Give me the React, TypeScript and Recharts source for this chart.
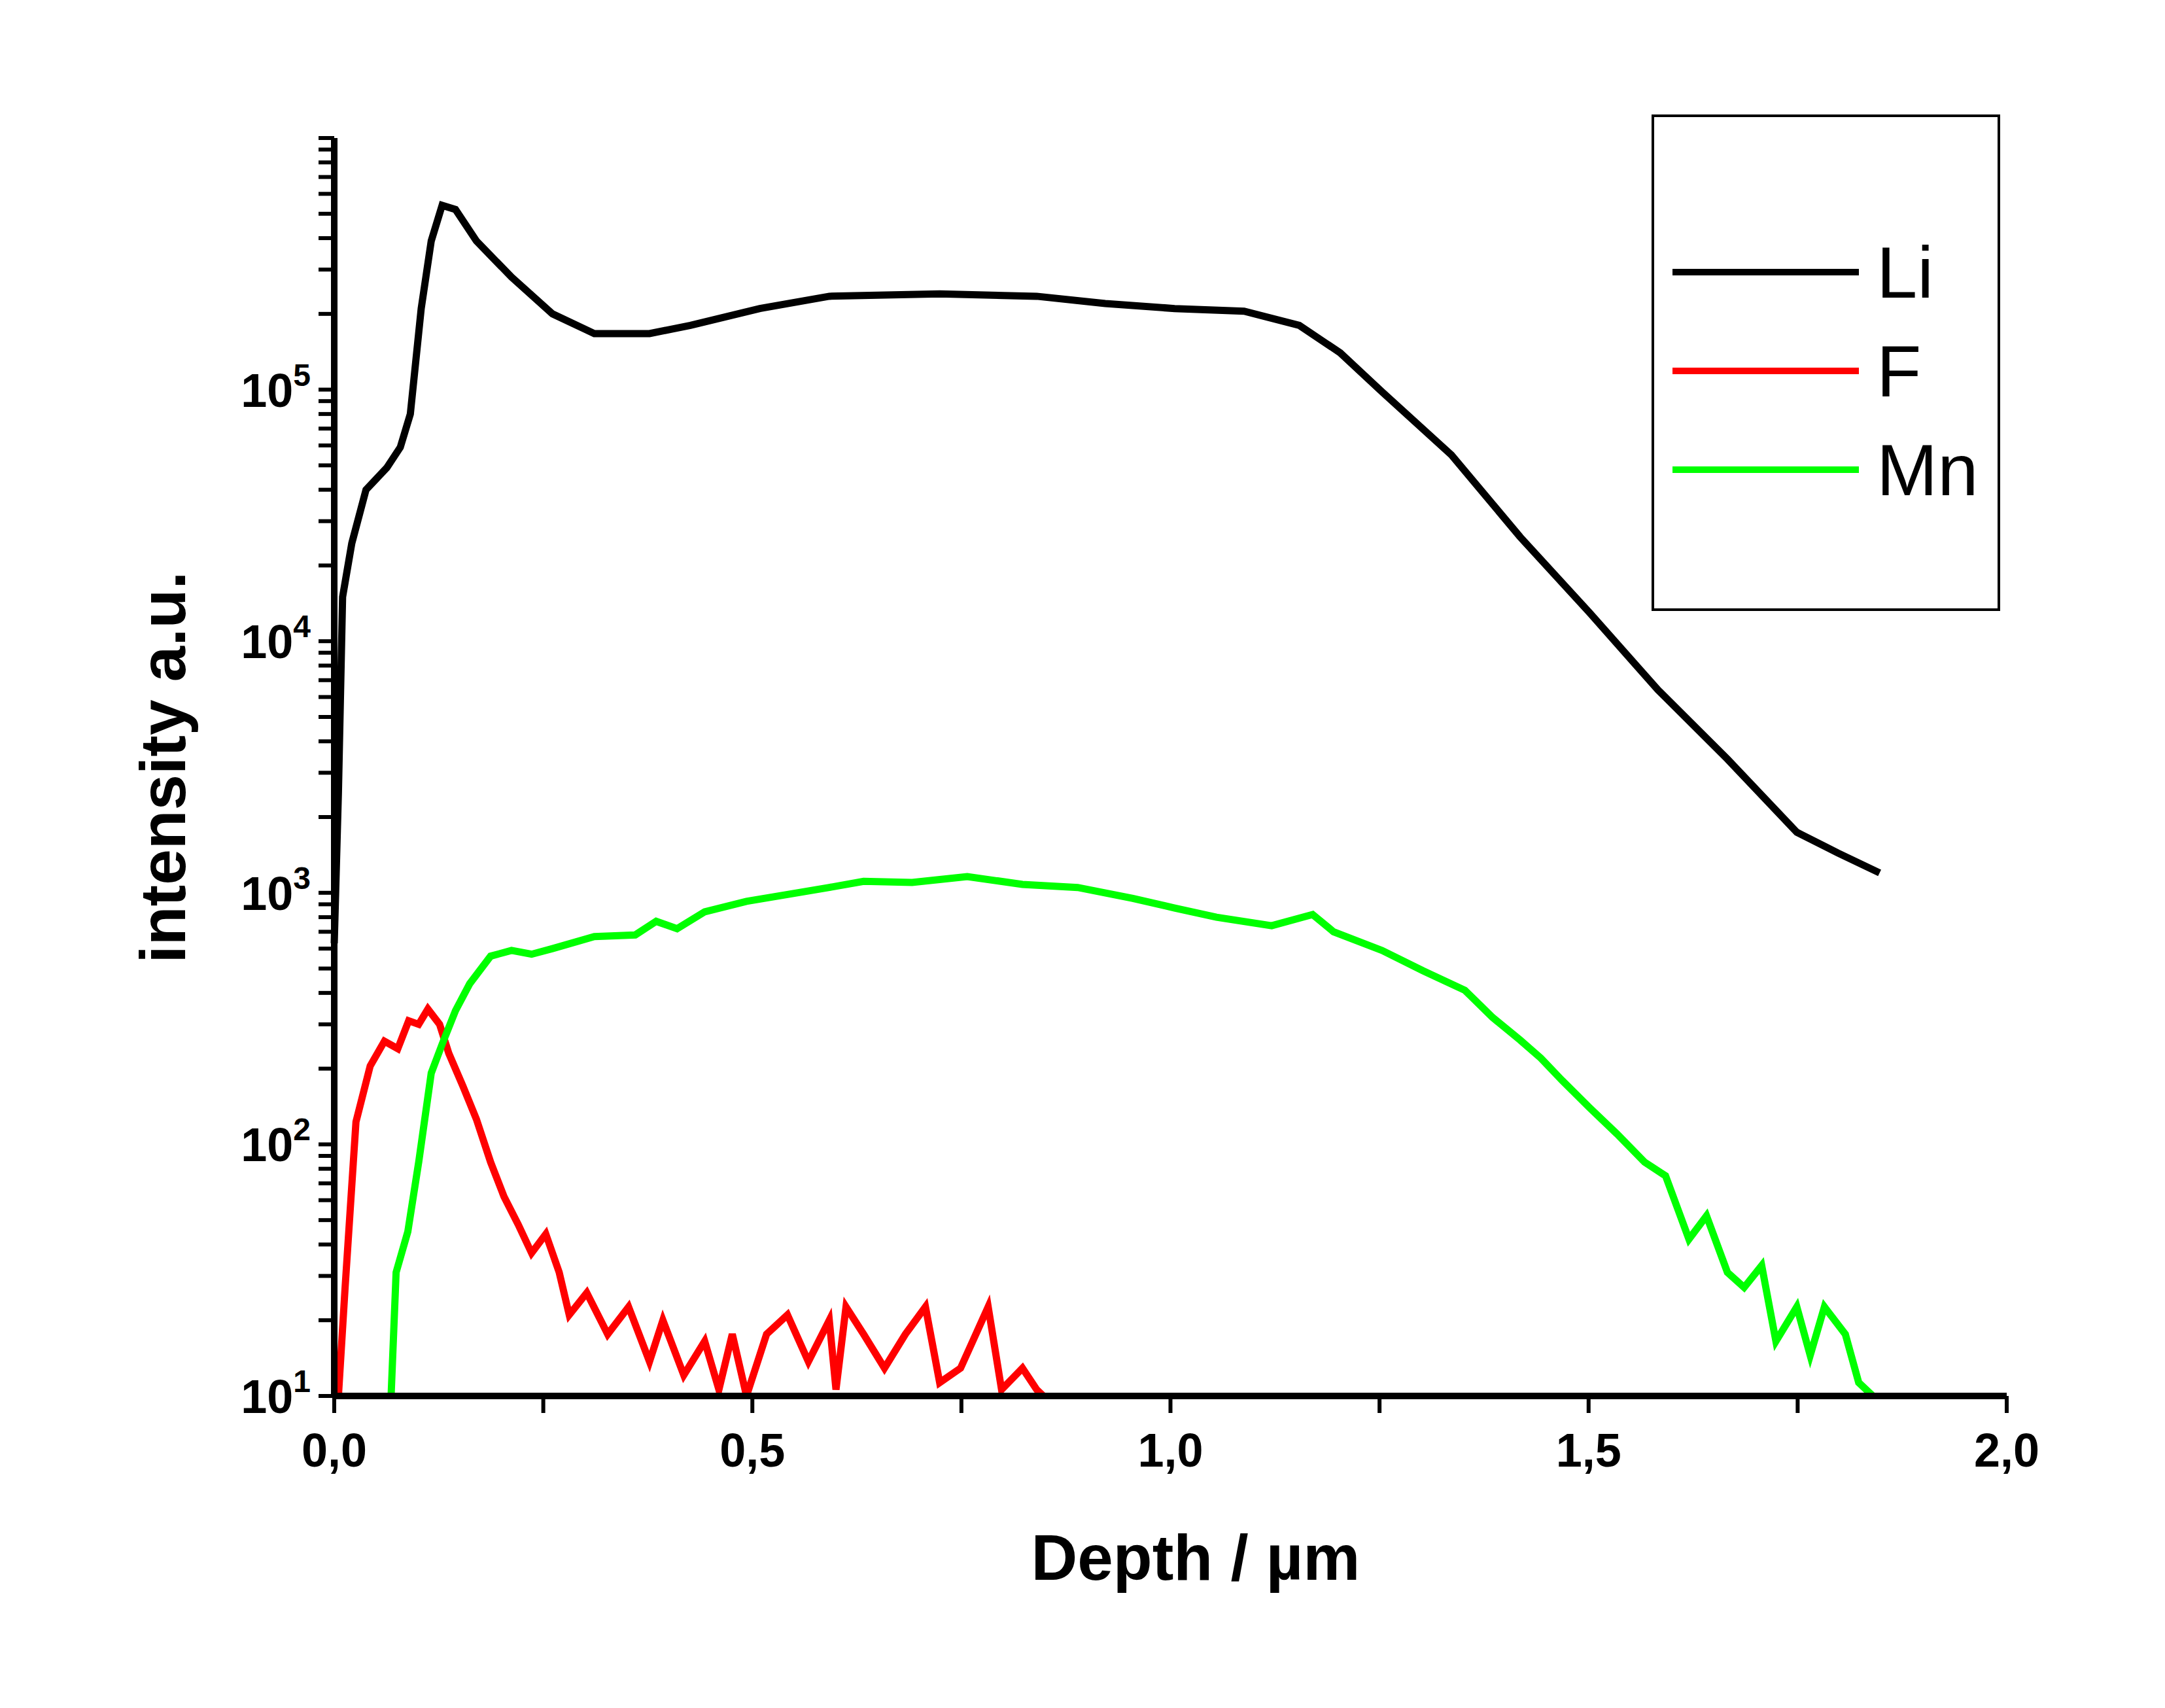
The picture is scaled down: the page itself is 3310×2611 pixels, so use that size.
import { LineChart, Line, XAxis, YAxis } from "recharts";

const liDepth = [0, 0.005, 0.01, 0.021, 0.038, 0.063, 0.079, 0.091, 0.104, 0.116, 0.129, 0.145, 0.17, 0.212, 0.261, 0.311, 0.377, 0.426, 0.509, 0.592, 0.724, 0.84, 0.922, 1.005, 1.088, 1.154, 1.203, 1.253, 1.336, 1.418, 1.501, 1.583, 1.666, 1.749, 1.798, 1.848];
const liValue = [630, 2500, 15000, 24500, 40000, 49000, 59000, 80000, 210000, 390000, 540000, 520000, 390000, 280000, 200000, 167000, 167000, 180000, 210000, 235000, 240000, 235000, 220000, 210000, 205000, 180000, 140000, 98000, 55000, 26000, 13000, 6400, 3400, 1740, 1440, 1200];

const fDepth = [0.005, 0.013, 0.026, 0.043, 0.06, 0.076, 0.089, 0.101, 0.112, 0.126, 0.137, 0.154, 0.17, 0.187, 0.203, 0.22, 0.236, 0.253, 0.269, 0.281, 0.302, 0.327, 0.352, 0.377, 0.393, 0.418, 0.443, 0.46, 0.476, 0.493, 0.517, 0.542, 0.567, 0.592, 0.6, 0.612, 0.633, 0.658, 0.683, 0.707, 0.724, 0.749, 0.782, 0.798, 0.823, 0.84, 0.848];
const fValue = [10, 27, 123, 205, 257, 240, 310, 300, 345, 300, 230, 170, 126, 85, 62, 48, 37, 44, 31, 21, 25.7, 17.6, 22.6, 13.7, 20, 12.1, 16.5, 10.6, 17.6, 10, 17.6, 21, 13.7, 20, 10.6, 22.6, 17.6, 12.9, 17.6, 22.6, 11.3, 12.9, 22.6, 10.6, 12.9, 10.6, 10];

const mnDepth = [0.068, 0.074, 0.088, 0.101, 0.116, 0.129, 0.145, 0.162, 0.187, 0.212, 0.236, 0.261, 0.311, 0.36, 0.385, 0.41, 0.443, 0.493, 0.542, 0.592, 0.633, 0.691, 0.757, 0.823, 0.889, 0.955, 1.005, 1.055, 1.121, 1.17, 1.195, 1.253, 1.302, 1.352, 1.385, 1.418, 1.443, 1.468, 1.501, 1.534, 1.567, 1.592, 1.62, 1.641, 1.666, 1.686, 1.707, 1.724, 1.749, 1.765, 1.782, 1.807, 1.823, 1.84];
const mnValue = [10, 31, 45, 85, 192, 250, 340, 435, 560, 590, 570, 600, 670, 680, 770, 720, 840, 925, 985, 1050, 1110, 1100, 1160, 1080, 1050, 950, 870, 800, 740, 820, 700, 590, 490, 410, 320, 260, 220, 180, 140, 110, 85, 75, 42, 52, 31, 27, 33, 16.5, 22.6, 14.5, 22.6, 17.6, 11.3, 10];

const xTicks = [0, 0.25, 0.5, 0.75, 1, 1.25, 1.5, 1.75, 2];
const decades = [1, 2, 3, 4, 5];
const yTicks: number[] = [];
decades.forEach((d) => {
  for (let m = 1; m < 10; m++) yTicks.push(m * Math.pow(10, d));
});
yTicks.push(1e6);

const series = [
  { name: "Li", color: "#000000", depth: liDepth, value: liValue },
  { name: "F", color: "#ff0000", depth: fDepth, value: fValue },
  { name: "Mn", color: "#00ff00", depth: mnDepth, value: mnValue },
];

const font = "'Liberation Sans', Arial, sans-serif";

const XTick = ({ x, y, payload }: any) => {
  const v = payload.value;
  if (Math.abs(v * 2 - Math.round(v * 2)) > 1e-6) return null;
  return (
    <text x={x} y={y + 80} textAnchor="middle" fontFamily={font} fontWeight="bold" fontSize={72} fill="#000">
      {v.toFixed(1).replace(".", ",")}
    </text>
  );
};

const YTick = ({ x, y, payload }: any) => {
  const e = Math.log10(payload.value);
  if (Math.abs(e - Math.round(e)) > 1e-6 || Math.round(e) > 5) return null;
  return (
    <text x={x - 10} y={y + 26} textAnchor="end" fontFamily={font} fontWeight="bold" fontSize={72} fill="#000">
      10<tspan dy={-32} fontSize={48}>{Math.round(e)}</tspan>
    </text>
  );
};

export default function App() {
  return (
    <div style={{ position: "absolute", left: 0, top: 0, width: 3310, height: 2611, background: "#fff" }}>
      <LineChart width={3310} height={2611} margin={{ top: 211, left: 311, right: 242, bottom: 327 }}>
        <XAxis
          type="number"
          dataKey="x"
          domain={[0, 2]}
          ticks={xTicks}
          interval={0}
          tick={<XTick />}
          tickSize={26}
          height={150}
          axisLine={{ stroke: "#000", strokeWidth: 10 }}
          tickLine={{ stroke: "#000", strokeWidth: 6 }}
        />
        <YAxis
          type="number"
          dataKey="y"
          scale="log"
          domain={[10, 1e6]}
          allowDataOverflow
          ticks={yTicks}
          interval={0}
          tick={<YTick />}
          tickSize={24}
          width={200}
          axisLine={{ stroke: "#000", strokeWidth: 10 }}
          tickLine={{ stroke: "#000", strokeWidth: 6 }}
        />
        {series.map((s) => (
          <Line
            key={s.name}
            data={s.depth.map((d, i) => ({ x: d, y: s.value[i] }))}
            dataKey="y"
            stroke={s.color}
            strokeWidth={11}
            dot={false}
            type="linear"
            isAnimationActive={false}
          />
        ))}
      </LineChart>
      <div style={{ position: "absolute", left: 2525, top: 175, width: 533, height: 759, border: "4px solid #000", boxSizing: "border-box" }} />
      {series.map((s, i) => (
        <div key={s.name} style={{ position: "absolute", left: 2557, top: 416 + i * 151 - 60, height: 120, display: "flex", alignItems: "center" }}>
          <div style={{ width: 285, height: 10, background: s.color }} />
          <span style={{ marginLeft: 27, fontFamily: font, fontSize: 112, color: "#000" }}>{s.name}</span>
        </div>
      ))}
      <div style={{ position: "absolute", left: 1828, top: 2381, transform: "translate(-50%,-50%)", fontFamily: font, fontWeight: "bold", fontSize: 98, whiteSpace: "nowrap" }}>
        Depth / µm
      </div>
      <div style={{ position: "absolute", left: 249, top: 1173, transform: "translate(-50%,-50%) rotate(-90deg)", fontFamily: font, fontWeight: "bold", fontSize: 98, whiteSpace: "nowrap" }}>
        intensity a.u.
      </div>
    </div>
  );
}
